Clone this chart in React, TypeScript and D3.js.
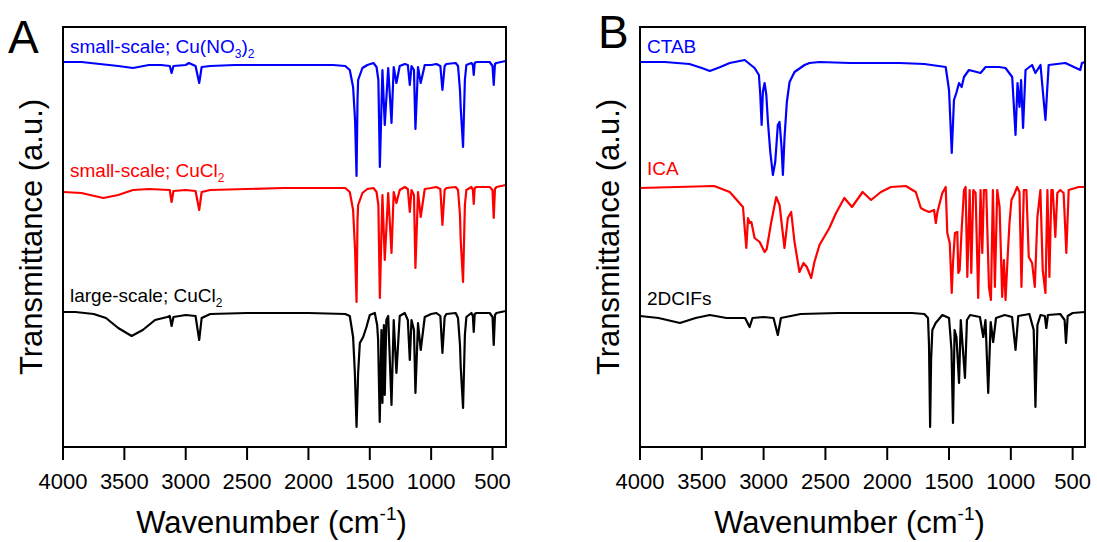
import React from "react";
import * as d3 from "d3";

type Pt = [number, number];

// Wavenumber tick labels
const TICKS = [4000, 3500, 3000, 2500, 2000, 1500, 1000, 500];

// Panel A spectra: [wavenumber (cm-1), transmittance (a.u., offset)]
const A_SMALL_NO3: Pt[] = [
  [4000, 385], [3850, 385], [3700, 383], [3550, 381], [3430, 379], [3300, 382], [3200, 382], [3130, 381],
  [3115, 374], [3100, 381], [3000, 382], [2974, 384], [2920, 381], [2890, 364], [2870, 380], [2800, 381],
  [2600, 382], [2400, 382], [2200, 382], [2000, 382], [1800, 382], [1700, 381], [1663, 377], [1636, 360],
  [1620, 327], [1608, 271], [1600, 347], [1595, 367], [1560, 379], [1520, 382], [1470, 384], [1445, 380],
  [1430, 367], [1418, 280], [1397, 377], [1378, 322], [1350, 379], [1323, 324], [1305, 380], [1283, 364],
  [1256, 381], [1215, 383], [1190, 382], [1174, 362], [1160, 381], [1140, 377], [1128, 318], [1107, 380],
  [1085, 364], [1052, 382], [1000, 382], [957, 383], [925, 381], [908, 357], [890, 381], [876, 383],
  [800, 384], [781, 381], [765, 357], [759, 339], [740, 300], [725, 367], [713, 382], [672, 384],
  [660, 382], [653, 372], [645, 384], [631, 385], [523, 385], [500, 381], [490, 362], [480, 383],
  [468, 384], [430, 385], [390, 386],
];

const A_SMALL_CL: Pt[] = [
  [4000, 255], [3850, 254], [3672, 249], [3550, 252], [3430, 257], [3300, 258], [3130, 257], [3115, 245],
  [3100, 256], [3000, 257], [2920, 256], [2890, 237], [2870, 255], [2800, 257], [2500, 258], [2200, 259],
  [2000, 259], [1800, 259], [1700, 259], [1663, 255], [1636, 237], [1620, 197], [1608, 145], [1600, 227],
  [1595, 242], [1560, 254], [1520, 258], [1470, 259], [1445, 255], [1430, 242], [1418, 149], [1397, 252],
  [1378, 187], [1350, 254], [1323, 194], [1305, 255], [1283, 244], [1256, 257], [1215, 260], [1190, 258],
  [1174, 235], [1160, 257], [1140, 252], [1128, 179], [1107, 255], [1085, 230], [1052, 258], [1000, 259],
  [957, 260], [925, 258], [908, 222], [890, 257], [876, 259], [800, 260], [781, 257], [765, 232],
  [759, 207], [740, 165], [725, 242], [713, 257], [672, 260], [660, 257], [653, 243], [645, 259],
  [631, 260], [523, 260], [500, 257], [490, 229], [480, 258], [468, 260], [430, 261], [390, 262],
];

const A_LARGE_CL: Pt[] = [
  [4000, 135], [3900, 135], [3750, 133], [3650, 129], [3550, 119], [3441, 111], [3350, 117], [3250, 127],
  [3150, 130], [3130, 131], [3115, 121], [3100, 130], [3000, 132], [2920, 131], [2890, 107], [2870, 129],
  [2800, 133], [2500, 134], [2000, 134], [1700, 133], [1663, 131], [1636, 110], [1622, 75], [1608, 20],
  [1595, 74], [1581, 104], [1554, 110], [1527, 120], [1500, 132], [1459, 134], [1440, 122], [1432, 107],
  [1419, 25], [1405, 117], [1397, 44], [1385, 122], [1378, 52], [1365, 127], [1350, 131], [1323, 42],
  [1305, 127], [1283, 74], [1256, 131], [1215, 134], [1190, 127], [1174, 87], [1160, 127], [1140, 117],
  [1128, 54], [1107, 124], [1085, 97], [1052, 130], [1000, 133], [957, 134], [925, 131], [908, 94],
  [890, 130], [876, 133], [800, 134], [781, 129], [765, 102], [759, 80], [740, 39], [725, 112],
  [713, 130], [672, 134], [660, 131], [653, 115], [645, 133], [631, 134], [523, 134], [500, 130],
  [490, 102], [480, 132], [468, 134], [430, 135], [390, 136],
];

// Panel B spectra
const B_CTAB: Pt[] = [
  [4000, 385], [3800, 385], [3600, 383], [3500, 379], [3435, 376], [3350, 380], [3274, 384], [3153, 387],
  [3073, 379], [3038, 372], [3027, 352], [3016, 322], [3006, 355], [2992, 364], [2978, 352], [2965, 325],
  [2946, 295], [2925, 272], [2906, 285], [2885, 322], [2871, 325], [2855, 300], [2844, 272], [2831, 309],
  [2812, 345], [2790, 365], [2750, 375], [2669, 382], [2629, 384], [2548, 385], [2300, 384], [2100, 384],
  [1900, 384], [1700, 383], [1527, 380], [1500, 357], [1478, 294], [1460, 347], [1441, 354], [1419, 364],
  [1398, 360], [1379, 370], [1339, 377], [1245, 374], [1204, 380], [1097, 380], [1043, 379], [989, 370],
  [962, 312], [946, 364], [930, 340], [917, 367], [901, 319], [881, 377], [828, 382], [801, 374],
  [760, 382], [720, 327], [694, 382], [559, 384], [438, 377], [425, 384], [400, 385],
];

const B_ICA: Pt[] = [
  [4000, 259], [3700, 260], [3400, 261], [3274, 255], [3167, 240], [3140, 199], [3126, 229], [3112, 224],
  [3099, 225], [3073, 209], [3032, 205], [2992, 195], [2975, 198], [2938, 225], [2898, 250], [2871, 242],
  [2831, 199], [2804, 229], [2777, 235], [2750, 205], [2710, 175], [2677, 184], [2650, 180], [2615, 169],
  [2589, 185], [2548, 202], [2468, 219], [2414, 234], [2347, 249], [2285, 240], [2199, 255], [2131, 247],
  [2051, 255], [1970, 260], [1850, 261], [1769, 255], [1728, 239], [1700, 237], [1661, 235], [1621, 237],
  [1607, 224], [1594, 235], [1554, 254], [1527, 260], [1514, 214], [1494, 204], [1478, 154], [1468, 184],
  [1452, 214], [1433, 215], [1425, 174], [1414, 177], [1398, 217], [1379, 257], [1366, 260], [1352, 170],
  [1333, 257], [1320, 174], [1304, 257], [1285, 254], [1264, 149], [1245, 257], [1231, 194], [1218, 257],
  [1199, 257], [1177, 160], [1161, 147], [1145, 257], [1129, 160], [1110, 257], [1091, 240], [1070, 150],
  [1056, 187], [1043, 147], [1027, 187], [1011, 224], [995, 247], [968, 254], [949, 260], [930, 255],
  [914, 160], [895, 257], [874, 257], [855, 190], [828, 184], [806, 160], [785, 230], [761, 257],
  [742, 177], [720, 154], [704, 257], [688, 170], [672, 257], [661, 257], [640, 210], [624, 254],
  [600, 257], [573, 254], [551, 194], [532, 257], [478, 259], [452, 260], [400, 260],
];

const B_2DCIFS: Pt[] = [
  [4000, 131], [3850, 129], [3677, 124], [3550, 129], [3435, 132], [3300, 129], [3150, 129], [3113, 120],
  [3090, 129], [3000, 130], [2920, 129], [2885, 112], [2860, 129], [2700, 133], [2400, 134], [2100, 134],
  [1800, 134], [1700, 133], [1670, 129], [1662, 102], [1653, 20], [1645, 87], [1635, 117], [1608, 124],
  [1554, 132], [1500, 129], [1480, 97], [1468, 24], [1455, 117], [1440, 110], [1419, 64], [1405, 127],
  [1371, 69], [1355, 127], [1330, 132], [1250, 130], [1223, 110], [1205, 127], [1183, 54], [1163, 125],
  [1143, 105], [1120, 129], [1050, 132], [990, 130], [962, 97], [940, 131], [850, 133], [815, 117],
  [801, 40], [785, 122], [760, 132], [725, 131], [713, 119], [700, 132], [600, 133], [565, 127],
  [554, 104], [540, 131], [500, 134], [400, 135],
];

// Label segments: [text, isSubscript]
const LABEL_A1: [string, boolean][] = [["small-scale; Cu(NO", false], ["3", true], [")", false], ["2", true]];
const LABEL_A2: [string, boolean][] = [["small-scale; CuCl", false], ["2", true]];
const LABEL_A3: [string, boolean][] = [["large-scale; CuCl", false], ["2", true]];
const LABEL_B1: [string, boolean][] = [["CTAB", false]];
const LABEL_B2: [string, boolean][] = [["ICA", false]];
const LABEL_B3: [string, boolean][] = [["2DCIFs", false]];

const FONT = "Arial, 'Liberation Sans', Helvetica, sans-serif";
const TOP = 27;
const BOTTOM = 447;

type Series = { data: Pt[]; color: string; label: [string, boolean][]; labelY: number };

function Label({ x, y, segs, color }: { x: number; y: number; segs: [string, boolean][]; color: string }) {
  return (
    <text x={x} y={y} fill={color} fontSize={19} fontFamily={FONT}>
      {segs.map(([t, sub], i) => {
        const prevSub = i > 0 && segs[i - 1][1];
        const dy = sub ? (prevSub ? 0 : 5) : prevSub ? -5 : 0;
        return (
          <tspan key={i} dy={dy} fontSize={sub ? 12 : 19}>
            {t}
          </tspan>
        );
      })}
    </text>
  );
}

function Panel({
  id, letter, letterX, letterY, left, right, wMin, series,
}: {
  id: string; letter: string; letterX: number; letterY: number; left: number; right: number; wMin: number; series: Series[];
}) {
  const x = d3.scaleLinear().domain([4000, wMin]).range([left, right]);
  const y = d3.scaleLinear().domain([0, 420]).range([BOTTOM, TOP]);
  const line = d3.line<Pt>().x((d) => x(d[0])).y((d) => y(d[1]));
  const cx = (left + right) / 2 - 13;
  const cy = (TOP + BOTTOM) / 2;
  return (
    <g>
      <defs>
        <clipPath id={`clip-${id}`}>
          <rect x={left} y={TOP} width={right - left} height={BOTTOM - TOP} />
        </clipPath>
      </defs>
      <text x={letterX} y={letterY} fontSize={46} fontFamily={FONT} fill="#000">{letter}</text>
      <g clipPath={`url(#clip-${id})`}>
        {series.map((s, i) => (
          <path key={i} d={line(s.data) || ""} fill="none" stroke={s.color} strokeWidth={2.2} strokeLinejoin="round" />
        ))}
      </g>
      {series.map((s, i) => (
        <Label key={i} x={left + 7} y={s.labelY} segs={s.label} color={s.color} />
      ))}
      <rect x={left} y={TOP} width={right - left} height={BOTTOM - TOP} fill="none" stroke="#000" strokeWidth={2} />
      {TICKS.map((t) => (
        <g key={t}>
          <line x1={x(t)} x2={x(t)} y1={BOTTOM} y2={BOTTOM + 13} stroke="#000" strokeWidth={2} />
          <text x={x(t)} y={489} textAnchor="middle" fontSize={22} fontFamily={FONT} fill="#000">{t}</text>
        </g>
      ))}
      <text x={cx} y={533} textAnchor="middle" fontSize={31} fontFamily={FONT} fill="#000">
        Wavenumber (cm<tspan dy={-13} fontSize={19}>-1</tspan><tspan dy={13}>)</tspan>
      </text>
      <text
        transform={`translate(${left - 21},${cy}) rotate(-90)`}
        textAnchor="middle"
        fontSize={31}
        fontFamily={FONT}
        fill="#000"
      >
        Transmittance (a.u.)
      </text>
    </g>
  );
}

export default function App() {
  const seriesA: Series[] = [
    { data: A_SMALL_NO3, color: "#0000ff", label: LABEL_A1, labelY: 53 },
    { data: A_SMALL_CL, color: "#ff0000", label: LABEL_A2, labelY: 177 },
    { data: A_LARGE_CL, color: "#000000", label: LABEL_A3, labelY: 302 },
  ];
  const seriesB: Series[] = [
    { data: B_CTAB, color: "#0000ff", label: LABEL_B1, labelY: 53 },
    { data: B_ICA, color: "#ff0000", label: LABEL_B2, labelY: 175 },
    { data: B_2DCIFS, color: "#000000", label: LABEL_B3, labelY: 305 },
  ];
  return (
    <svg
      width={1097}
      height={542}
      style={{ position: "absolute", left: 0, top: 0, background: "#fff" }}
    >
      <rect width={1097} height={542} fill="#fff" />
      <Panel id="a" letter="A" letterX={8} letterY={53} left={63} right={506} wMin={390} series={seriesA} />
      <Panel id="b" letter="B" letterX={598} letterY={48} left={640} right={1085} wMin={400} series={seriesB} />
    </svg>
  );
}
